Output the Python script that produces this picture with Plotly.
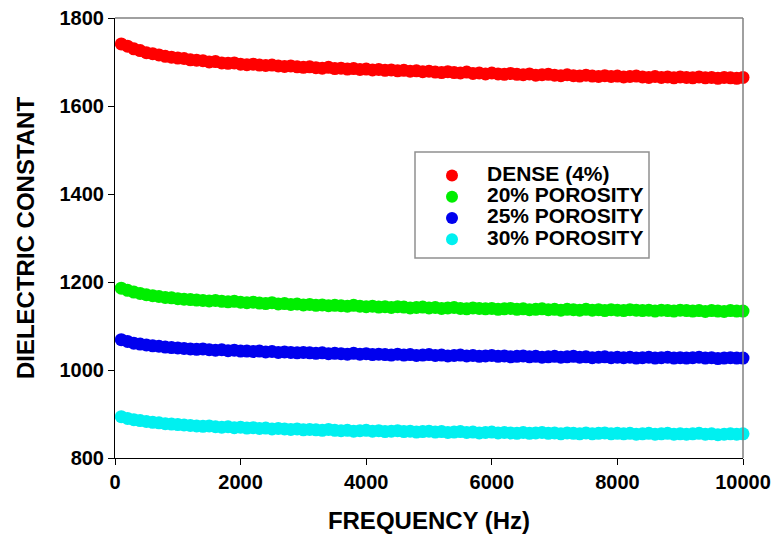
import plotly.graph_objects as go

# Measurement frequencies (Hz)
frequency = list(range(100, 10001, 100))

dense_4 = [
    1741, 1736, 1730, 1726, 1721, 1719, 1716, 1713, 1711, 1709,
    1708, 1705, 1704, 1703, 1700, 1701, 1698, 1697, 1698, 1695,
    1694, 1695, 1693, 1692, 1693, 1691, 1690, 1691, 1689, 1688,
    1689, 1687, 1686, 1688, 1685, 1686, 1684, 1685, 1683, 1684,
    1682, 1683, 1681, 1682, 1680, 1681, 1679, 1680, 1678, 1679,
    1677, 1676, 1678, 1676, 1675, 1677, 1674, 1675, 1673, 1675,
    1673, 1672, 1674, 1672, 1671, 1673, 1670, 1671, 1672, 1670,
    1669, 1671, 1669, 1668, 1670, 1668, 1667, 1669, 1667, 1668,
    1666, 1667, 1668, 1666, 1665, 1667, 1665, 1666, 1664, 1666,
    1665, 1664, 1666, 1664, 1665, 1663, 1665, 1664, 1663, 1665,
]

porosity_20 = [
    1186, 1181, 1177, 1174, 1171, 1169, 1167, 1165, 1164, 1162,
    1161, 1160, 1159, 1158, 1157, 1158, 1156, 1155, 1156, 1154,
    1153, 1154, 1152, 1151, 1153, 1150, 1151, 1149, 1150, 1148,
    1149, 1147, 1148, 1146, 1147, 1146, 1145, 1147, 1145, 1144,
    1145, 1143, 1144, 1142, 1144, 1143, 1141, 1142, 1143, 1141,
    1142, 1140, 1141, 1142, 1140, 1139, 1141, 1140, 1139, 1140,
    1138, 1139, 1140, 1138, 1139, 1137, 1138, 1139, 1137, 1138,
    1136, 1138, 1137, 1136, 1138, 1136, 1137, 1135, 1137, 1136,
    1135, 1137, 1136, 1135, 1136, 1134, 1136, 1135, 1134, 1136,
    1135, 1134, 1135, 1133, 1135, 1134, 1133, 1135, 1134, 1134,
]

porosity_25 = [
    1069, 1065, 1061, 1059, 1057, 1055, 1054, 1052, 1051, 1050,
    1049, 1048, 1047, 1048, 1046, 1045, 1046, 1044, 1045, 1043,
    1043, 1042, 1043, 1041, 1042, 1040, 1041, 1040, 1039, 1040,
    1039, 1038, 1039, 1037, 1038, 1037, 1036, 1038, 1036, 1037,
    1035, 1036, 1035, 1034, 1036, 1034, 1035, 1033, 1034, 1035,
    1033, 1034, 1032, 1033, 1034, 1032, 1033, 1031, 1032, 1033,
    1031, 1032, 1030, 1031, 1032, 1030, 1031, 1029, 1030, 1031,
    1029, 1030, 1031, 1029, 1030, 1028, 1029, 1030, 1028, 1029,
    1028, 1029, 1027, 1028, 1029, 1027, 1028, 1029, 1027, 1028,
    1027, 1028, 1029, 1027, 1028, 1026, 1027, 1028, 1027, 1027,
]

porosity_30 = [
    894, 890, 887, 885, 883, 881, 880, 878, 877, 876,
    875, 874, 873, 872, 873, 871, 870, 871, 869, 870,
    868, 869, 867, 868, 866, 867, 866, 865, 866, 864,
    865, 864, 863, 865, 863, 862, 863, 861, 862, 863,
    861, 862, 860, 861, 862, 860, 861, 859, 860, 861,
    859, 860, 858, 859, 860, 858, 859, 857, 858, 859,
    857, 858, 857, 856, 858, 856, 857, 858, 856, 857,
    855, 857, 856, 855, 857, 855, 856, 857, 855, 856,
    855, 856, 854, 855, 856, 854, 855, 856, 854, 855,
    854, 855, 856, 854, 855, 853, 854, 855, 854, 855,
]

series_names = ["DENSE (4%)", "20% POROSITY", "25% POROSITY", "30% POROSITY"]
series_values = [dense_4, porosity_20, porosity_25, porosity_30]
series_colors = ["#ff0000", "#00ee00", "#0000ee", "#00f0f0"]

y_ticks = [800, 1000, 1200, 1400, 1600, 1800]
x_ticks = [0, 2000, 4000, 6000, 8000, 10000]

FONT = "Arial, 'Liberation Sans', sans-serif"

fig = go.Figure()
for name, vals, color in zip(series_names, series_values, series_colors):
    fig.add_trace(go.Scatter(
        x=frequency, y=vals, mode="markers",
        name=f'<span style="font-size:21px">{name}</span>',
        marker=dict(color=color, size=13, line=dict(width=0)),
        cliponaxis=False,
    ))

axis_common = dict(
    showgrid=False, zeroline=False, showline=True, linecolor="black", linewidth=1,
    ticks="outside", ticklen=6, tickcolor="black", tickwidth=1, automargin=False,
    tickfont=dict(family=FONT, size=20, color="black", weight="bold"),
)

fig.update_layout(
    width=777, height=548,
    margin=dict(l=115, r=34, t=18, b=90),
    paper_bgcolor="white", plot_bgcolor="white",
    font=dict(family=FONT, color="black", weight="bold"),
    xaxis=dict(
        range=[0, 10000], tickvals=x_ticks, ticktext=[str(v) for v in x_ticks],
        title=dict(text="FREQUENCY (Hz)", font=dict(family=FONT, size=24, color="black", weight="bold"), standoff=20),
        **axis_common,
    ),
    yaxis=dict(
        range=[800, 1800], tickvals=y_ticks, ticktext=[str(v) for v in y_ticks],
        title=dict(text="DIELECTRIC CONSTANT", font=dict(family=FONT, size=24, color="black", weight="bold"), standoff=18),
        **axis_common,
    ),
    legend=dict(
        x=(417 - 115) / 628, y=(458 - 160) / 440, xanchor="left", yanchor="top",
        itemwidth=60, borderwidth=0, bgcolor="rgba(0,0,0,0)",
        font=dict(family=FONT, size=14, color="black", weight="bold"),
        itemsizing="constant", tracegroupgap=0,
    ),
    shapes=[
        # grey frame on the top and right of the plotting area
        dict(type="line", xref="paper", yref="paper", x0=0, x1=1, y0=1, y1=1,
             line=dict(color="#808080", width=1.5)),
        dict(type="line", xref="paper", yref="paper", x0=1, x1=1, y0=0, y1=1,
             line=dict(color="#808080", width=1.5)),
        # legend frame
        dict(type="rect", xref="paper", yref="paper",
             x0=(415 - 115) / 628, x1=(649 - 115) / 628,
             y0=(458 - 258) / 440, y1=(458 - 152) / 440,
             line=dict(color="#909090", width=1.5), fillcolor="rgba(0,0,0,0)"),
    ],
)

fig.write_html("out.html")
